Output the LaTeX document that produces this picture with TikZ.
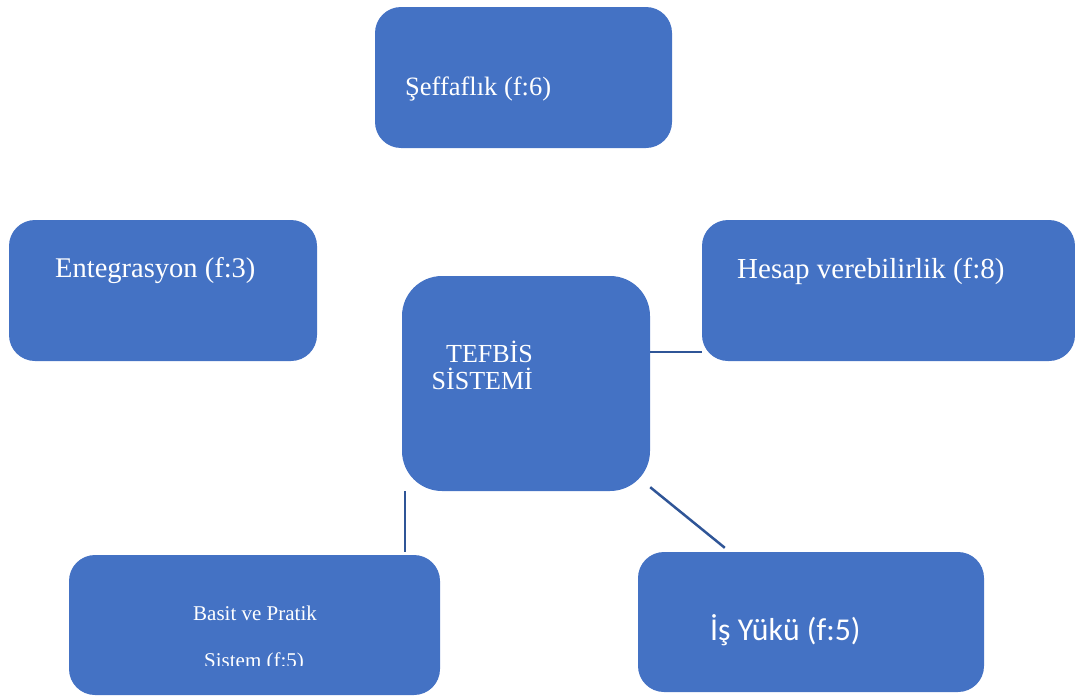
\documentclass[tikz,border=0pt]{standalone}
\usepackage{fontspec}
\setmainfont{Liberation Serif}
\newfontfamily\calibrifont{Carlito}
\usetikzlibrary{calc}

\definecolor{kutumavi}{HTML}{4472C4}
\definecolor{cizgimavi}{HTML}{2F5597}

\begin{document}
\begin{tikzpicture}[x=1pt,y=-1pt,
    kutu/.style={rectangle, fill=kutumavi, rounded corners=26pt, inner sep=0pt},
    baglanti/.style={draw=cizgimavi, line width=2.5pt},
    yazi/.style={text=white, anchor=base west, inner sep=0pt}]
    \useasboundingbox (0,0) rectangle (1075,696);

    % kutular
    \node[kutu, minimum width=297pt, minimum height=141pt] (seffaf) at (523.5,77.5) {};
    \node[kutu, minimum width=308pt, minimum height=141pt] (entegr) at (163,290.5) {};
    \node[kutu, minimum width=373pt, minimum height=141pt] (hesap) at (888.5,290.5) {};
    \node[kutu, rounded corners=40pt, minimum width=248pt, minimum height=215pt] (tefbis) at (526,383.5) {};
    \node[kutu, minimum width=371pt, minimum height=140pt] (basit) at (254.5,625) {};
    \node[kutu, minimum width=346pt, minimum height=140pt] (isyuku) at (811,622) {};

    % baglantilar
    \coordinate (h1) at ($(hesap.south west)+(0,-9)$);
    \draw[baglanti] (h1) -- (h1 -| tefbis.east);
    \draw[baglanti] ($(tefbis.south west)+(3,0)$) -- ($(basit.north -| tefbis.south west)+(3,-3)$);
    \draw[baglanti] ($(tefbis.south east)+(0,-4)$) -- ($(isyuku.north west)+(87,-4)$);

    % yazilar
    \node[yazi, font=\fontsize{26.5}{30}\selectfont] (seffaf-y) at (405,95) {Şeffaflık (f:6)};
    \node[yazi, font=\fontsize{28.5}{32}\selectfont] (entegr-y) at (55,277) {Entegrasyon (f:3)};
    \node[yazi, font=\fontsize{29}{33}\selectfont] (hesap-y) at (737,278) {Hesap verebilirlik (f:8)};
    \node[yazi, anchor=base east, font=\fontsize{26}{30}\selectfont] (tefbis-y1) at (533,362) {TEFBİS};
    \node[yazi, anchor=base east, font=\fontsize{26}{30}\selectfont] (tefbis-y2) at (533,389) {SİSTEMİ};
    \node[yazi, font=\fontsize{21}{25}\selectfont] (basit-y1) at (193,620) {Basit ve Pratik};
    \begin{scope}
        \clip (69,555) rectangle (440,665);
        \node[yazi, font=\fontsize{21}{25}\selectfont] (basit-y2) at (204,667) {Sistem (f:5)};
    \end{scope}
    \node[yazi, font=\calibrifont\fontsize{31.8}{36}\selectfont] (isyuku-y) at (710,640) {İş Yükü (f:5)};
\end{tikzpicture}
\end{document}
